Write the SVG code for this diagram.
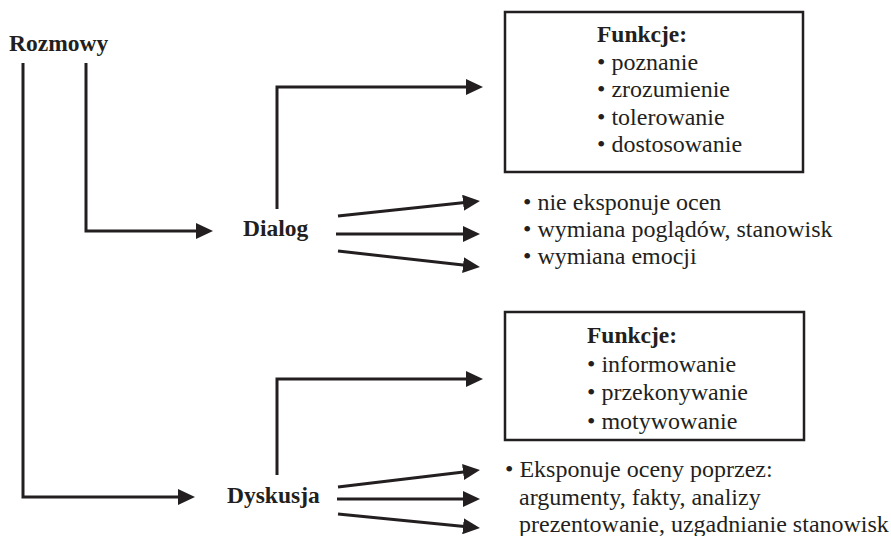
<svg xmlns="http://www.w3.org/2000/svg" width="891" height="536" viewBox="0 0 891 536">
<style>
text{font-family:"Liberation Serif","Times New Roman",serif;fill:#231f20;font-size:24px}
.b{font-weight:bold;font-size:23.5px}
.box{fill:none;stroke:#231f20;stroke-width:2.5}
.ln{fill:none;stroke:#231f20;stroke-width:3;stroke-linejoin:miter;stroke-linecap:butt}
</style>
<defs>
<marker id="ah" viewBox="0 0 17 16" markerWidth="17" markerHeight="16" refX="9" refY="8" orient="auto" markerUnits="userSpaceOnUse">
<path d="M0,0 L17,8 L0,16 Z" fill="#231f20"/>
</marker>
</defs>
<rect width="891" height="536" fill="#fff"/>
<g id="connectors">
<path class="ln" d="M86,63 V231 H205" marker-end="url(#ah)"/>
<path class="ln" d="M23,63 V497 H187" marker-end="url(#ah)"/>
<path class="ln" d="M277,209 V87 H475" marker-end="url(#ah)"/>
<path class="ln" d="M277,475 V379 H475" marker-end="url(#ah)"/>
<path class="ln" d="M338,216 L472,201.8" marker-end="url(#ah)"/>
<path class="ln" d="M336,234 L472,234" marker-end="url(#ah)"/>
<path class="ln" d="M338,251 L472,266.1" marker-end="url(#ah)"/>
<path class="ln" d="M338,487 L472,471" marker-end="url(#ah)"/>
<path class="ln" d="M337,499 L472,499" marker-end="url(#ah)"/>
<path class="ln" d="M338,514 L472,527.2" marker-end="url(#ah)"/>
</g>
<g id="rozmowy"><text class="b" x="9" y="51">Rozmowy</text></g>
<g id="dialog"><text class="b" x="243" y="236">Dialog</text></g>
<g id="dyskusja"><text class="b" x="227" y="503">Dyskusja</text></g>
<g id="funkcje-dialog">
<rect class="box" x="505" y="12" width="298" height="160"/>
<text class="b" x="597" y="42">Funkcje:</text>
<text x="597" y="70">• poznanie</text>
<text x="597" y="97">• zrozumienie</text>
<text x="597" y="125">• tolerowanie</text>
<text x="597" y="152">• dostosowanie</text>
</g>
<g id="cechy-dialog">
<text x="523" y="210">• nie eksponuje ocen</text>
<text x="523" y="237">• wymiana poglądów, stanowisk</text>
<text x="523" y="264">• wymiana emocji</text>
</g>
<g id="funkcje-dyskusja">
<rect class="box" x="505" y="312" width="299" height="128"/>
<text class="b" x="587" y="343">Funkcje:</text>
<text x="587" y="372">• informowanie</text>
<text x="587" y="400">• przekonywanie</text>
<text x="587" y="429">• motywowanie</text>
</g>
<g id="cechy-dyskusja">
<text x="505" y="477">• Eksponuje oceny poprzez:</text>
<text x="519" y="505">argumenty, fakty, analizy</text>
<text x="519" y="532">prezentowanie, uzgadnianie stanowisk</text>
</g>
</svg>
